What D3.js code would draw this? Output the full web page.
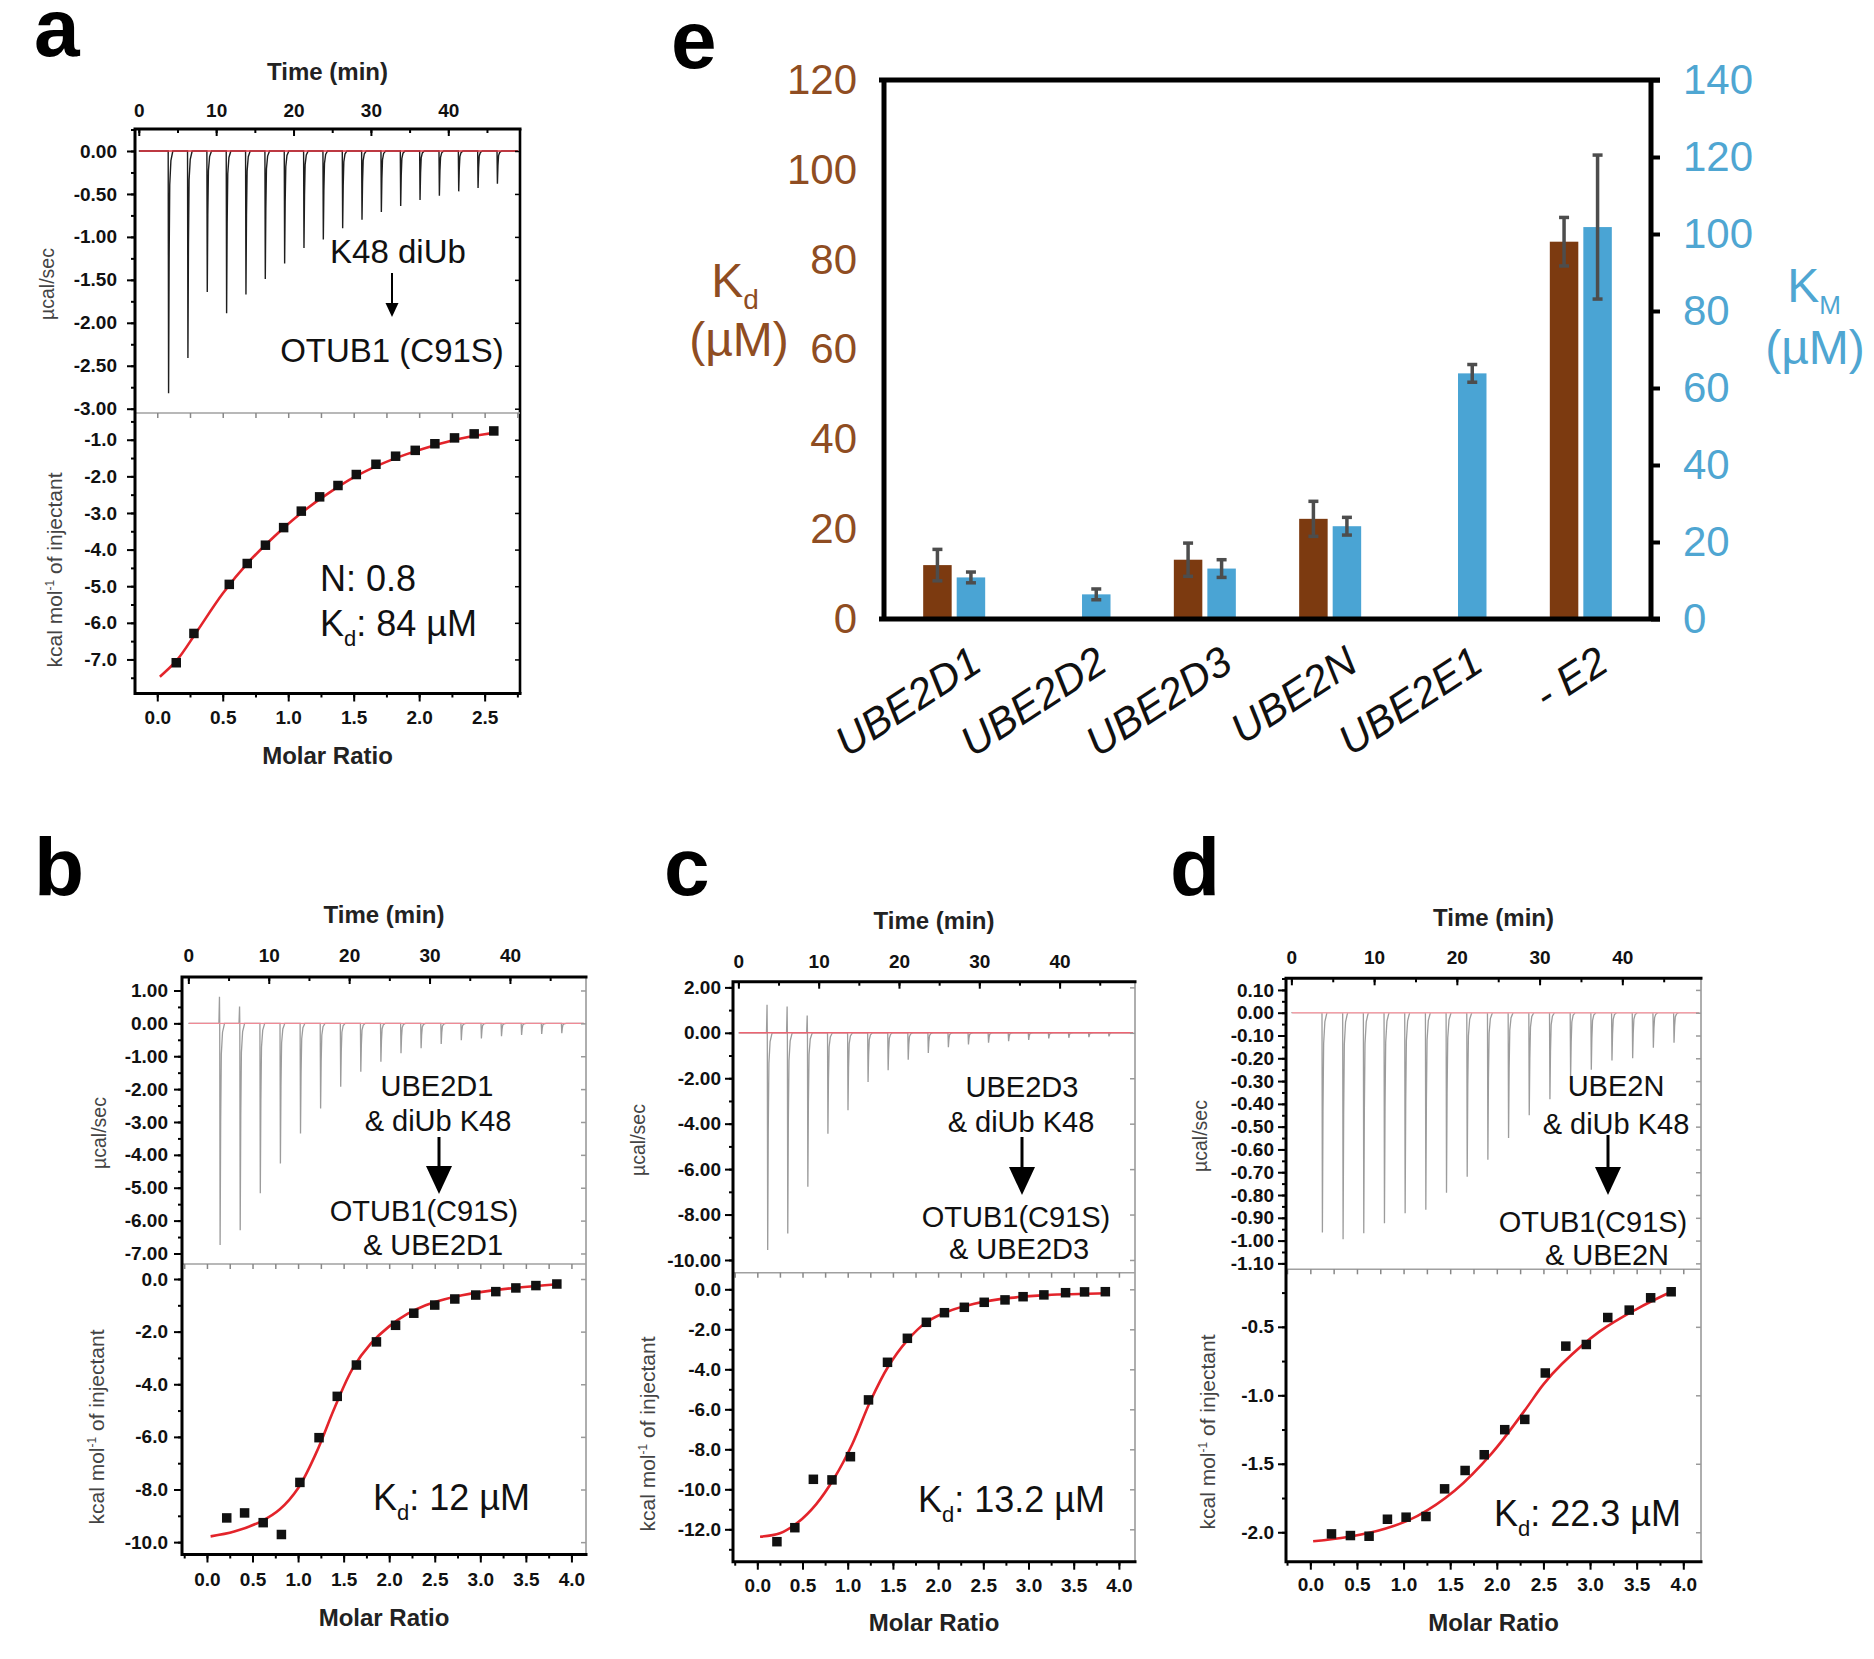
<!DOCTYPE html>
<html><head><meta charset="utf-8">
<script src="https://cdn.jsdelivr.net/npm/d3@7"></script>
<style>
body{margin:0;background:#fff;}
svg{display:block;}
</style></head><body>
<svg id="fig" width="1874" height="1659"></svg>
<script>
// ---------------- DATA ----------------
// Panel a : K48 diUb -> OTUB1 (C91S)
const injTimesA = [3.8, 6.3, 8.8, 11.3, 13.8, 16.3, 18.8, 21.3, 23.8, 26.3, 28.8, 31.3, 33.8, 36.3, 38.8, 41.3, 43.8, 46.3];
const peaksA = [-2.82, -2.41, -1.64, -1.89, -1.67, -1.49, -1.31, -1.13, -1.03, -0.90, -0.80, -0.71, -0.64, -0.57, -0.52, -0.47, -0.43, -0.38];
const isoAx = [0.145, 0.28, 0.55, 0.687, 0.826, 0.965, 1.10, 1.24, 1.38, 1.52, 1.67, 1.82, 1.97, 2.12, 2.27, 2.42, 2.57];
const isoAy = [-7.09, -6.29, -4.95, -4.38, -3.88, -3.40, -2.95, -2.56, -2.25, -1.95, -1.67, -1.45, -1.29, -1.11, -0.95, -0.84, -0.76];
const fitAx = [0.02, 0.15, 0.3, 0.5, 0.7, 0.9, 1.1, 1.3, 1.5, 1.7, 1.9, 2.1, 2.3, 2.5, 2.6];
const fitAy = [-7.47, -7.02, -6.25, -5.2, -4.33, -3.62, -3.0, -2.48, -2.03, -1.68, -1.40, -1.17, -0.98, -0.85, -0.80];

// Panel b : UBE2D1 & diUb K48 -> OTUB1(C91S) & UBE2D1
const injTimesB = [3.9, 6.4, 8.9, 11.4, 13.9, 16.4, 18.9, 21.4, 23.9, 26.4, 28.9, 31.4, 33.9, 36.4, 38.9, 41.4, 43.9, 46.4];
const peaksB = [-6.74, -6.29, -5.17, -4.26, -3.35, -2.59, -1.93, -1.47, -1.17, -0.91, -0.76, -0.63, -0.51, -0.46, -0.39, -0.35, -0.32, -0.30];
const posPeaksB = [0.81, 0.51, 0, 0, 0, 0, 0, 0, 0, 0, 0, 0, 0, 0, 0, 0, 0, 0];
const isoBx = [0.217, 0.413, 0.617, 0.817, 1.02, 1.23, 1.43, 1.64, 1.86, 2.07, 2.27, 2.50, 2.72, 2.95, 3.17, 3.39, 3.61, 3.84];
const isoBy = [-9.08, -8.89, -9.26, -9.71, -7.73, -6.03, -4.46, -3.27, -2.39, -1.76, -1.30, -0.99, -0.76, -0.61, -0.48, -0.34, -0.25, -0.19];
const fitBx = [0.04, 0.3, 0.6, 0.8, 1.0, 1.2, 1.4, 1.6, 1.8, 2.0, 2.2, 2.4, 2.6, 2.8, 3.0, 3.4, 3.85];
const fitBy = [-9.78, -9.6, -9.2, -8.75, -7.95, -6.6, -4.9, -3.4, -2.45, -1.8, -1.33, -1.0, -0.78, -0.62, -0.5, -0.33, -0.2];

// Panel c : UBE2D3 & diUb K48 -> OTUB1(C91S) & UBE2D3
const injTimesC = [3.6, 6.1, 8.6, 11.1, 13.6, 16.1, 18.6, 21.1, 23.6, 26.1, 28.6, 31.1, 33.6, 36.1, 38.6, 41.1, 43.6, 46.1];
const peaksC = [-9.56, -8.83, -6.78, -4.44, -3.41, -2.17, -1.65, -1.19, -0.89, -0.63, -0.51, -0.44, -0.37, -0.31, -0.25, -0.22, -0.19, -0.16];
const posPeaksC = [1.24, 1.16, 0.76, 0, 0, 0, 0, 0, 0, 0, 0, 0, 0, 0, 0, 0, 0, 0];
const isoCx = [0.217, 0.415, 0.62, 0.826, 1.03, 1.23, 1.44, 1.66, 1.87, 2.07, 2.29, 2.51, 2.74, 2.94, 3.17, 3.41, 3.62, 3.85];
const isoCy = [-12.62, -11.92, -9.5, -9.53, -8.37, -5.53, -3.65, -2.45, -1.65, -1.17, -0.9, -0.65, -0.53, -0.37, -0.28, -0.17, -0.13, -0.12];
const fitCx = [0.03, 0.25, 0.45, 0.65, 0.85, 1.05, 1.25, 1.45, 1.65, 1.87, 2.1, 2.4, 2.8, 3.2, 3.88];
const fitCy = [-12.37, -12.2, -11.65, -10.75, -9.45, -7.75, -5.6, -3.85, -2.6, -1.65, -1.12, -0.72, -0.43, -0.29, -0.2];

// Panel d : UBE2N & diUb K48 -> OTUB1(C91S) & UBE2N
const injTimesD = [3.7, 6.2, 8.7, 11.2, 13.7, 16.2, 18.7, 21.2, 23.7, 26.2, 28.7, 31.2, 33.7, 36.2, 38.7, 41.2, 43.7, 46.2];
const peaksD = [-0.965, -0.994, -0.968, -0.924, -0.88, -0.865, -0.79, -0.72, -0.645, -0.55, -0.45, -0.38, -0.29, -0.25, -0.21, -0.20, -0.154, -0.132];
const isoDx = [0.227, 0.43, 0.63, 0.827, 1.027, 1.24, 1.44, 1.66, 1.865, 2.085, 2.30, 2.52, 2.74, 2.96, 3.19, 3.42, 3.65, 3.87];
const isoDy = [-2.012, -2.024, -2.029, -1.905, -1.89, -1.885, -1.683, -1.549, -1.434, -1.251, -1.176, -0.837, -0.641, -0.629, -0.432, -0.378, -0.288, -0.244];
const fitDx = [0.03, 0.4, 0.8, 1.15, 1.55, 1.95, 2.3, 2.5, 2.7, 3.1, 3.5, 3.87];
const fitDy = [-2.066, -2.035, -1.975, -1.88, -1.695, -1.42, -1.11, -0.92, -0.77, -0.535, -0.37, -0.244];

// Tick label values
const timeTicks = [0, 10, 20, 30, 40];
const topTicksA = [0, -0.5, -1.0, -1.5, -2.0, -2.5, -3.0];
const botTicksA = [-1, -2, -3, -4, -5, -6, -7];
const molarTicksA = [0, 0.5, 1.0, 1.5, 2.0, 2.5];
const topTicksB = [1, 0, -1, -2, -3, -4, -5, -6, -7];
const botTicksB = [0, -2, -4, -6, -8, -10];
const topTicksC = [2, 0, -2, -4, -6, -8, -10];
const botTicksC = [0, -2, -4, -6, -8, -10, -12];
const topTicksD = [0.1, 0, -0.1, -0.2, -0.3, -0.4, -0.5, -0.6, -0.7, -0.8, -0.9, -1.0, -1.1];
const botTicksD = [-0.5, -1.0, -1.5, -2.0];
const molarTicks4 = [0, 0.5, 1.0, 1.5, 2.0, 2.5, 3.0, 3.5, 4.0];

// Panel e
const eCategories = ['UBE2D1', 'UBE2D2', 'UBE2D3', 'UBE2N', 'UBE2E1', '- E2'];
const kdValues = [12, null, 13.2, 22.3, null, 84];
const kdErrors = [3.5, null, 3.7, 3.9, null, 5.4];
const kmValues = [10.8, 6.4, 13.1, 24.1, 63.8, 101.8];
const kmErrors = [1.4, 1.4, 2.3, 2.3, 2.3, 18.7];
const kdTicks = [0, 20, 40, 60, 80, 100, 120];
const kmTicks = [0, 20, 40, 60, 80, 100, 120, 140];

// ---------------- DRAWING ----------------
const FONT = "'Liberation Sans', Arial, Helvetica, sans-serif";
const svg = d3.select('#fig');
svg.append('rect').attr('width', 1874).attr('height', 1659).attr('fill', '#fff');

const f2 = v => (Math.abs(v) < 1e-9 ? 0 : v).toFixed(2);
const f1 = v => (Math.abs(v) < 1e-9 ? 0 : v).toFixed(1);
const f0 = v => String(Math.round(v));
function minorTicks(dom, step) {
  const lo = Math.min(dom[0], dom[1]), hi = Math.max(dom[0], dom[1]);
  return d3.range(Math.ceil(lo / step - 1e-6) * step, hi + 1e-9, step).map(v => +v.toFixed(6));
}
function styleAxis(sel, o) {
  sel.select('.domain').remove();
  sel.selectAll('.tick line').attr('stroke', o.color || '#000').attr('stroke-width', o.sw || 2);
  sel.selectAll('.tick text').attr('font-family', FONT).attr('font-size', o.fs || 19)
    .attr('font-weight', o.fw || 'bold').attr('fill', o.tc || '#111');
}
// shape of one injection peak: (time offset in min, fraction of the peak height)
const SPIKE_KERNEL = [[0, 0], [0.05, 1], [0.12, 0.45], [0.2, 0.14], [0.35, 0.04], [0.6, 0]];

function drawITC(c) {
  const g = svg.append('g');
  const x = d3.scaleLinear().domain(c.tDom).range([c.L, c.R]);
  const yT = d3.scaleLinear().domain(c.topDom).range([c.D, c.T]);
  const xm = d3.scaleLinear().domain(c.mDom).range([c.L, c.R]);
  const yB = d3.scaleLinear().domain(c.botDom).range([c.B, c.D]);

  // thermogram
  const pts = [[0, 0]];
  c.times.forEach((t, i) => {
    pts.push([t - 0.1, 0]);
    if (c.pos && c.pos[i] > 0) { pts.push([t - 0.03, c.pos[i]]); }
    SPIKE_KERNEL.forEach(k => pts.push([t + k[0], c.peaks[i] * k[1]]));
  });
  pts.push([c.tDom[1] - 0.3, 0]);
  g.append('path').attr('d', d3.line().x(d => x(d[0])).y(d => yT(d[1]))(pts))
    .attr('fill', 'none').attr('stroke', c.traceColor).attr('stroke-width', c.traceW);
  g.append('line').attr('x1', x(0.1)).attr('x2', c.R - 2).attr('y1', yT(0)).attr('y2', yT(0))
    .attr('stroke', c.baseColor).attr('stroke-width', 1.4);

  // isotherm fit + points
  const fit = c.fitX.map((v, i) => [v, c.fitY[i]]);
  g.append('path').attr('d', d3.line().curve(d3.curveCatmullRom.alpha(0.5)).x(d => xm(d[0])).y(d => yB(d[1]))(fit))
    .attr('fill', 'none').attr('stroke', '#e3242b').attr('stroke-width', 2.6);
  const sq = 9.5;
  g.selectAll(null).data(c.isoX.map((v, i) => [v, c.isoY[i]])).enter().append('rect')
    .attr('x', d => xm(d[0]) - sq / 2).attr('y', d => yB(d[1]) - sq / 2)
    .attr('width', sq).attr('height', sq).attr('fill', '#111');

  // right side & divider
  const rc = c.rightBlack ? '#000' : '#9a9a9a';
  g.append('line').attr('x1', c.R).attr('x2', c.R).attr('y1', c.T).attr('y2', c.B)
    .attr('stroke', rc).attr('stroke-width', c.rightBlack ? 2.6 : 1.6);
  g.append('line').attr('x1', c.L).attr('x2', c.R).attr('y1', c.D).attr('y2', c.D)
    .attr('stroke', '#a0a0a0').attr('stroke-width', 1.6);
  g.append('g').attr('transform', `translate(${c.R},0)`)
    .call(d3.axisRight(yT).tickValues(c.topTicks).tickSize(-5).tickFormat(''))
    .call(styleAxis, { color: rc, sw: 1.5 });
  g.append('g').attr('transform', `translate(${c.R},0)`)
    .call(d3.axisRight(yB).tickValues(c.botTicks).tickSize(-5).tickFormat(''))
    .call(styleAxis, { color: rc, sw: 1.5 });
  g.append('g').attr('transform', `translate(0,${c.D})`)
    .call(d3.axisTop(xm).tickValues(minorTicks(c.mDom, c.mStep / 2)).tickSize(-5).tickFormat(''))
    .call(styleAxis, { color: '#888', sw: 1.5 });

  // left axes
  g.append('g').attr('transform', `translate(${c.L},0)`)
    .call(d3.axisLeft(yT).tickValues(c.topTicks).tickSize(8).tickPadding(c.leftPad).tickFormat(f2))
    .call(styleAxis, { fs: c.tickFs });
  g.append('g').attr('transform', `translate(${c.L},0)`)
    .call(d3.axisLeft(yT).tickValues(minorTicks(c.topDom, c.topMinor)).tickSize(4).tickFormat(''))
    .call(styleAxis, {});
  g.append('g').attr('transform', `translate(${c.L},0)`)
    .call(d3.axisLeft(yB).tickValues(c.botTicks).tickSize(8).tickPadding(c.leftPad).tickFormat(f1))
    .call(styleAxis, { fs: c.tickFs });
  g.append('g').attr('transform', `translate(${c.L},0)`)
    .call(d3.axisLeft(yB).tickValues(minorTicks(c.botDom, c.botMinor)).tickSize(4).tickFormat(''))
    .call(styleAxis, {});
  // top time axis (inward ticks)
  g.append('g').attr('transform', `translate(0,${c.T})`)
    .call(d3.axisTop(x).tickValues(timeTicks).tickSize(-7).tickPadding(c.timePad).tickFormat(f0))
    .call(styleAxis, { fs: c.tickFs });
  g.append('g').attr('transform', `translate(0,${c.T})`)
    .call(d3.axisTop(x).tickValues(minorTicks(c.tDom, 5)).tickSize(-4).tickFormat(''))
    .call(styleAxis, {});
  // bottom molar ratio axis
  g.append('g').attr('transform', `translate(0,${c.B})`)
    .call(d3.axisBottom(xm).tickValues(c.mTicks).tickSize(8).tickPadding(c.mPad).tickFormat(f1))
    .call(styleAxis, { fs: c.tickFs });
  g.append('g').attr('transform', `translate(0,${c.B})`)
    .call(d3.axisBottom(xm).tickValues(minorTicks(c.mDom, c.mStep / 2)).tickSize(4).tickFormat(''))
    .call(styleAxis, {});

  // thick black frame: left, top, bottom
  g.append('path').attr('d', `M${c.L},${c.B}L${c.L},${c.T}L${c.R},${c.T}M${c.L},${c.B}L${c.R},${c.B}`)
    .attr('fill', 'none').attr('stroke', '#000').attr('stroke-width', 3).attr('stroke-linecap', 'square');

  // axis titles
  const cx = (c.L + c.R) / 2;
  g.append('text').attr('x', cx).attr('y', c.timeTitleY).attr('text-anchor', 'middle')
    .attr('font-family', FONT).attr('font-weight', 'bold').attr('font-size', 24).attr('fill', '#222').text('Time (min)');
  g.append('text').attr('x', cx).attr('y', c.molarTitleY).attr('text-anchor', 'middle')
    .attr('font-family', FONT).attr('font-weight', 'bold').attr('font-size', 24).attr('fill', '#222').text('Molar Ratio');
  g.append('text').attr('transform', `translate(${c.ucalX},${c.ucalY}) rotate(-90)`).attr('text-anchor', 'middle')
    .attr('font-family', FONT).attr('font-size', 19.5).attr('fill', '#444').text('µcal/sec');
  const kt = g.append('text').attr('transform', `translate(${c.kcalX},${c.kcalY}) rotate(-90)`).attr('text-anchor', 'middle')
    .attr('font-family', FONT).attr('font-size', 21).attr('fill', '#444');
  kt.append('tspan').text('kcal mol');
  kt.append('tspan').attr('dy', -8).attr('font-size', 12).text('-1');
  kt.append('tspan').attr('dy', 8).text('  of injectant');

  // panel letter
  g.append('text').attr('x', c.letterX).attr('y', c.letterY).attr('font-family', FONT)
    .attr('font-weight', 'bold').attr('font-size', 82).attr('fill', '#000').text(c.letter);

  // annotations
  c.notes.forEach(n => {
    g.append('text').attr('x', n[1]).attr('y', n[2]).attr('text-anchor', 'middle')
      .attr('font-family', FONT).attr('font-size', c.noteFs).attr('fill', '#111').text(n[0]);
  });
  const a = c.arrow;
  g.append('line').attr('x1', a.x).attr('x2', a.x).attr('y1', a.y1).attr('y2', a.y2 - a.hh + 2)
    .attr('stroke', '#000').attr('stroke-width', a.sw);
  g.append('path').attr('d', `M${a.x - a.hw / 2},${a.y2 - a.hh}L${a.x + a.hw / 2},${a.y2 - a.hh}L${a.x},${a.y2}Z`).attr('fill', '#000');

  // Kd texts
  c.kdLines.forEach(k => {
    const t = g.append('text').attr('x', k.x).attr('y', k.y).attr('font-family', FONT)
      .attr('font-size', 36).attr('fill', '#111');
    if (k.sub) {
      t.append('tspan').text('K');
      t.append('tspan').attr('dy', 10).attr('font-size', 22).text('d');
      t.append('tspan').attr('dy', -10).text(k.text);
    } else t.text(k.text);
  });
}

// Panel a
drawITC({
  letter: 'a', letterX: 34, letterY: 56,
  L: 135, R: 520, T: 129, D: 413, B: 693.5,
  tDom: [-0.49, 49.27], topDom: [-3.05, 0.256], botDom: [-7.93, -0.27], mDom: [-0.17, 2.77],
  times: injTimesA, peaks: peaksA, pos: null, traceColor: '#1e1e1e', traceW: 1.4, baseColor: '#e0303c',
  isoX: isoAx, isoY: isoAy, fitX: fitAx, fitY: fitAy,
  topTicks: topTicksA, topMinor: 0.25, botTicks: botTicksA, botMinor: 0.5,
  mTicks: molarTicksA, mStep: 0.5, rightBlack: true, tickFs: 19, leftPad: 10, timePad: 12, mPad: 9,
  timeTitleY: 80, molarTitleY: 764, ucalX: 54, ucalY: 284, kcalX: 62, kcalY: 570,
  noteFs: 33,
  notes: [['K48 diUb', 398, 263], ['OTUB1 (C91S)', 392, 362]],
  arrow: { x: 392, y1: 273, y2: 317, hw: 13, hh: 14, sw: 2 },
  kdLines: [{ text: 'N: 0.8', x: 320, y: 591 }, { text: ': 84 µM', x: 320, y: 636, sub: true }]
});
// Panel b
drawITC({
  letter: 'b', letterX: 34, letterY: 895,
  L: 182, R: 586, T: 977, D: 1264, B: 1554.5,
  tDom: [-0.79, 49.46], topDom: [-7.32, 1.41], botDom: [-10.47, 0.57], mDom: [-0.274, 4.16],
  times: injTimesB, peaks: peaksB, pos: posPeaksB, traceColor: '#9c9c9c', traceW: 1.3, baseColor: '#f08a96',
  isoX: isoBx, isoY: isoBy, fitX: fitBx, fitY: fitBy,
  topTicks: topTicksB, topMinor: 0.5, botTicks: botTicksB, botMinor: 1,
  mTicks: molarTicks4, mStep: 0.5, rightBlack: false, tickFs: 19, leftPad: 6, timePad: 15, mPad: 10,
  timeTitleY: 923, molarTitleY: 1626, ucalX: 106, ucalY: 1133, kcalX: 104, kcalY: 1427,
  noteFs: 29,
  notes: [['UBE2D1', 437, 1096], ['& diUb K48', 438, 1131], ['OTUB1(C91S)', 424, 1221], ['& UBE2D1', 433, 1255]],
  arrow: { x: 439, y1: 1137, y2: 1194, hw: 26, hh: 28, sw: 3 },
  kdLines: [{ text: ': 12 µM', x: 373, y: 1510, sub: true }]
});
// Panel c
drawITC({
  letter: 'c', letterX: 664, letterY: 895,
  L: 733, R: 1135, T: 981.7, D: 1272.7, B: 1561.7,
  tDom: [-0.67, 49.39], topDom: [-10.56, 2.25], botDom: [-13.62, 0.83], mDom: [-0.269, 4.178],
  times: injTimesC, peaks: peaksC, pos: posPeaksC, traceColor: '#9c9c9c', traceW: 1.3, baseColor: '#ec6472',
  isoX: isoCx, isoY: isoCy, fitX: fitCx, fitY: fitCy,
  topTicks: topTicksC, topMinor: 1, botTicks: botTicksC, botMinor: 1,
  mTicks: molarTicks4, mStep: 0.5, rightBlack: false, tickFs: 19, leftPad: 4, timePad: 14, mPad: 9,
  timeTitleY: 929, molarTitleY: 1631, ucalX: 645, ucalY: 1140, kcalX: 655, kcalY: 1434,
  noteFs: 29,
  notes: [['UBE2D3', 1022, 1097], ['& diUb K48', 1021, 1132], ['OTUB1(C91S)', 1016, 1227], ['& UBE2D3', 1019, 1259]],
  arrow: { x: 1022, y1: 1137, y2: 1195, hw: 26, hh: 28, sw: 3 },
  kdLines: [{ text: ': 13.2 µM', x: 918, y: 1512, sub: true }]
});
// Panel d
drawITC({
  letter: 'd', letterX: 1170, letterY: 895,
  L: 1286, R: 1701, T: 978.3, D: 1269.3, B: 1561.7,
  tDom: [-0.65, 49.51], topDom: [-1.126, 0.151], botDom: [-2.215, -0.08], mDom: [-0.261, 4.19],
  times: injTimesD, peaks: peaksD, pos: null, traceColor: '#9c9c9c', traceW: 1.3, baseColor: '#f2a0a8',
  isoX: isoDx, isoY: isoDy, fitX: fitDx, fitY: fitDy,
  topTicks: topTicksD, topMinor: 0.05, botTicks: botTicksD, botMinor: 0.25,
  mTicks: molarTicks4, mStep: 0.5, rightBlack: false, tickFs: 19, leftPad: 4, timePad: 14, mPad: 8,
  timeTitleY: 926, molarTitleY: 1631, ucalX: 1207, ucalY: 1136, kcalX: 1215, kcalY: 1432,
  noteFs: 29,
  notes: [['UBE2N', 1616, 1096], ['& diUb K48', 1616, 1134], ['OTUB1(C91S)', 1593, 1232], ['& UBE2N', 1607, 1265]],
  arrow: { x: 1608, y1: 1135, y2: 1195, hw: 26, hh: 28, sw: 3 },
  kdLines: [{ text: ': 22.3 µM', x: 1494, y: 1526, sub: true }]
});

// Panel e : bar chart
(function () {
  const L = 884, R = 1651, T = 80, B = 619;
  const brown = '#7c3a10', brownText = '#8f4d22', blue = '#4aa4d4', blueText = '#4fa6d2';
  const g = svg.append('g');
  const x0 = d3.scaleBand().domain(eCategories).range([L, R]).paddingOuter(0.06).paddingInner(0);
  const x1 = d3.scaleBand().domain(['kd', 'km']).range([-31, 31]).paddingInner(0.15);
  const yL = d3.scaleLinear().domain([0, 120]).range([B, T]);
  const yR = d3.scaleLinear().domain([0, 140]).range([B, T]);
  const cx = d => x0(d) + x0.bandwidth() / 2;

  const rows = eCategories.map((c, i) => ({ c, kd: kdValues[i], kdE: kdErrors[i], km: kmValues[i], kmE: kmErrors[i] }));
  g.selectAll('.kd').data(rows.filter(r => r.kd != null)).enter().append('rect')
    .attr('x', r => cx(r.c) + x1('kd')).attr('width', x1.bandwidth())
    .attr('y', r => yL(r.kd)).attr('height', r => B - yL(r.kd)).attr('fill', brown);
  g.selectAll('.km').data(rows).enter().append('rect')
    .attr('x', r => cx(r.c) + x1('km')).attr('width', x1.bandwidth())
    .attr('y', r => yR(r.km)).attr('height', r => B - yR(r.km)).attr('fill', blue);
  function err(sel, xf, y, v, e) {
    sel.each(function (r) {
      const gg = d3.select(this), xc = xf(r);
      const y1 = y(r[v] + r[e]), y2 = y(r[v] - r[e]);
      gg.append('line').attr('x1', xc).attr('x2', xc).attr('y1', y1).attr('y2', y2).attr('stroke', '#4d4d4d').attr('stroke-width', 3.5);
      [y1, y2].forEach(yy => gg.append('line').attr('x1', xc - 5).attr('x2', xc + 5).attr('y1', yy).attr('y2', yy).attr('stroke', '#4d4d4d').attr('stroke-width', 3.5));
    });
  }
  g.selectAll('.ekd').data(rows.filter(r => r.kd != null)).enter().append('g')
    .call(err, r => cx(r.c) + x1('kd') + x1.bandwidth() / 2, yL, 'kd', 'kdE');
  g.selectAll('.ekm').data(rows).enter().append('g')
    .call(err, r => cx(r.c) + x1('km') + x1.bandwidth() / 2, yR, 'km', 'kmE');

  g.append('g').attr('transform', `translate(${L},0)`)
    .call(d3.axisLeft(yL).tickValues(kdTicks).tickSize(0).tickPadding(27).tickFormat(f0))
    .call(styleAxis, { fs: 42, fw: 'normal', tc: brownText });
  g.append('g').attr('transform', `translate(${R},0)`)
    .call(d3.axisRight(yR).tickValues(kmTicks).tickSize(9).tickPadding(23).tickFormat(f0))
    .call(styleAxis, { fs: 42, fw: 'normal', tc: blueText, sw: 4 });
  g.append('path').attr('d', `M${L - 5},${T}L${R + 9},${T}M${L - 5},${B}L${R + 9},${B}M${L},${T}L${L},${B}M${R},${T}L${R},${B}`)
    .attr('fill', 'none').attr('stroke', '#000').attr('stroke-width', 5);

  g.selectAll('.cat').data(eCategories).enter().append('text')
    .attr('transform', d => `translate(${cx(d) + 30},${B + 50}) rotate(-33)`)
    .attr('text-anchor', 'end').attr('font-family', FONT).attr('font-size', 42)
    .attr('font-style', 'italic').attr('fill', '#111').text(d => d);

  const t1 = g.append('text').attr('x', 735).attr('y', 297).attr('text-anchor', 'middle')
    .attr('font-family', FONT).attr('font-size', 48).attr('fill', brownText);
  t1.append('tspan').text('K'); t1.append('tspan').attr('dy', 12).attr('font-size', 28).text('d');
  g.append('text').attr('x', 739).attr('y', 356).attr('text-anchor', 'middle')
    .attr('font-family', FONT).attr('font-size', 48).attr('fill', brownText).text('(µM)');
  const t2 = g.append('text').attr('x', 1814).attr('y', 302).attr('text-anchor', 'middle')
    .attr('font-family', FONT).attr('font-size', 48).attr('fill', blueText);
  t2.append('tspan').text('K'); t2.append('tspan').attr('dy', 12).attr('font-size', 26).text('M');
  g.append('text').attr('x', 1815).attr('y', 364).attr('text-anchor', 'middle')
    .attr('font-family', FONT).attr('font-size', 48).attr('fill', blueText).text('(µM)');

  g.append('text').attr('x', 671).attr('y', 68).attr('font-family', FONT)
    .attr('font-weight', 'bold').attr('font-size', 82).attr('fill', '#000').text('e');
})();
</script>
</body></html>
